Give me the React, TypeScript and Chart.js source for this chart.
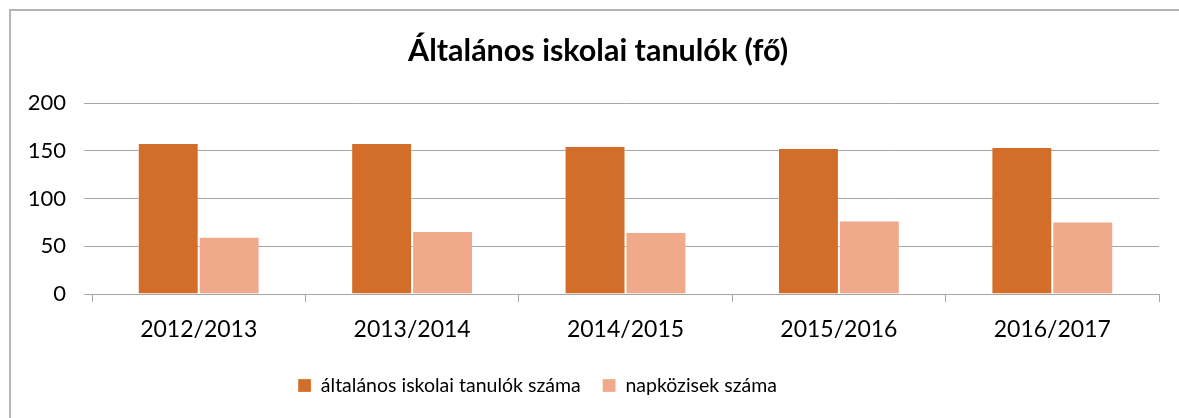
import React, { useEffect, useRef } from "react";
import { Chart, registerables } from "chart.js";

Chart.register(...registerables);

const categories = ["2012/2013", "2013/2014", "2014/2015", "2015/2016", "2016/2017"];
const tanulokSzama = [158, 158, 155, 153, 154];
const napkozisekSzama = [60, 66, 65, 77, 76];
const seriesNames = ["általános iskolai tanulók száma", "napközisek száma"];
const yTicks = [0, 50, 100, 150, 200];
const titleText = "Általános iskolai tanulók (fő)";

const FONT = "Lato, 'Open Sans', sans-serif";
const GRID = "#a6a6a6";

const framePlugin = {
  id: "frame",
  beforeDraw(chart: any) {
    const ctx = chart.ctx;
    ctx.save();
    ctx.fillStyle = "#ffffff";
    ctx.fillRect(0, 0, chart.width, chart.height);
    ctx.strokeStyle = "#b4b4b4";
    ctx.lineWidth = 2;
    ctx.strokeRect(10, 10, chart.width + 200, chart.height + 200);
    ctx.restore();
  },
};

const boxShift = {
  id: "boxShift",
  afterLayout(chart: any) {
    const l = chart.legend;
    if (l) {
      l.left -= 52;
      l.right -= 52;
    }
    const t = chart.titleBlock;
    if (t) {
      t.left += 8.5;
      t.right += 8.5;
    }
  },
};

export default function App() {
  const ref = useRef<HTMLCanvasElement>(null);
  useEffect(() => {
    if (!ref.current) return;
    const chart = new Chart(ref.current, {
      type: "bar",
      data: {
        labels: categories,
        datasets: [
          {
            label: seriesNames[0],
            data: tanulokSzama,
            backgroundColor: "#d36e2a",
            borderColor: "rgba(255,255,255,0.25)",
            borderWidth: 1,
          },
          {
            label: seriesNames[1],
            data: napkozisekSzama,
            backgroundColor: "#f1a98b",
            borderColor: "rgba(255,255,255,0.25)",
            borderWidth: 1,
          },
        ],
      },
      options: {
        animation: false,
        responsive: false,
        events: [],
        layout: { padding: { left: 20, right: 20, top: 10, bottom: 12.75 } },
        datasets: { bar: { categoryPercentage: 0.571, barPercentage: 1 } },
        plugins: {
          title: {
            display: true,
            text: titleText,
            color: "#000",
            font: { family: FONT, size: 30.5, weight: "bold" },
            padding: { top: 22.7, bottom: 33.7 },
          },
          legend: {
            position: "bottom",
            labels: {
              color: "#000",
              font: { family: FONT, size: 19.5 },
              boxWidth: 13,
              boxHeight: 13,
              padding: 22,
            },
          },
          tooltip: { enabled: false },
        },
        scales: {
          x: {
            grid: {
              offset: true,
              drawOnChartArea: false,
              drawTicks: true,
              tickLength: 8,
              color: GRID,
            },
            border: { display: true, color: GRID },
            ticks: {
              color: "#000",
              font: { family: FONT, size: 23 },
              padding: 14,
              maxRotation: 0,
            },
            afterFit(s: any) {
              s.height = 59.75;
            },
          },
          y: {
            min: 0,
            max: 200,
            afterBuildTicks(s: any) {
              s.ticks = yTicks.map((v) => ({ value: v }));
            },
            grid: { color: GRID, tickLength: 8, drawTicks: true },
            border: { display: false },
            ticks: {
              color: "#000",
              font: { family: FONT, size: 22 },
              padding: 18,
            },
            afterFit(s: any) {
              s.width = 72;
            },
          },
        },
      },
      plugins: [framePlugin, boxShift],
    });
    return () => chart.destroy();
  }, []);
  return (
    <div style={{ position: "absolute", left: 0, top: 0, width: 1179, height: 418 }}>
      <canvas ref={ref} width={1179} height={418} />
    </div>
  );
}
